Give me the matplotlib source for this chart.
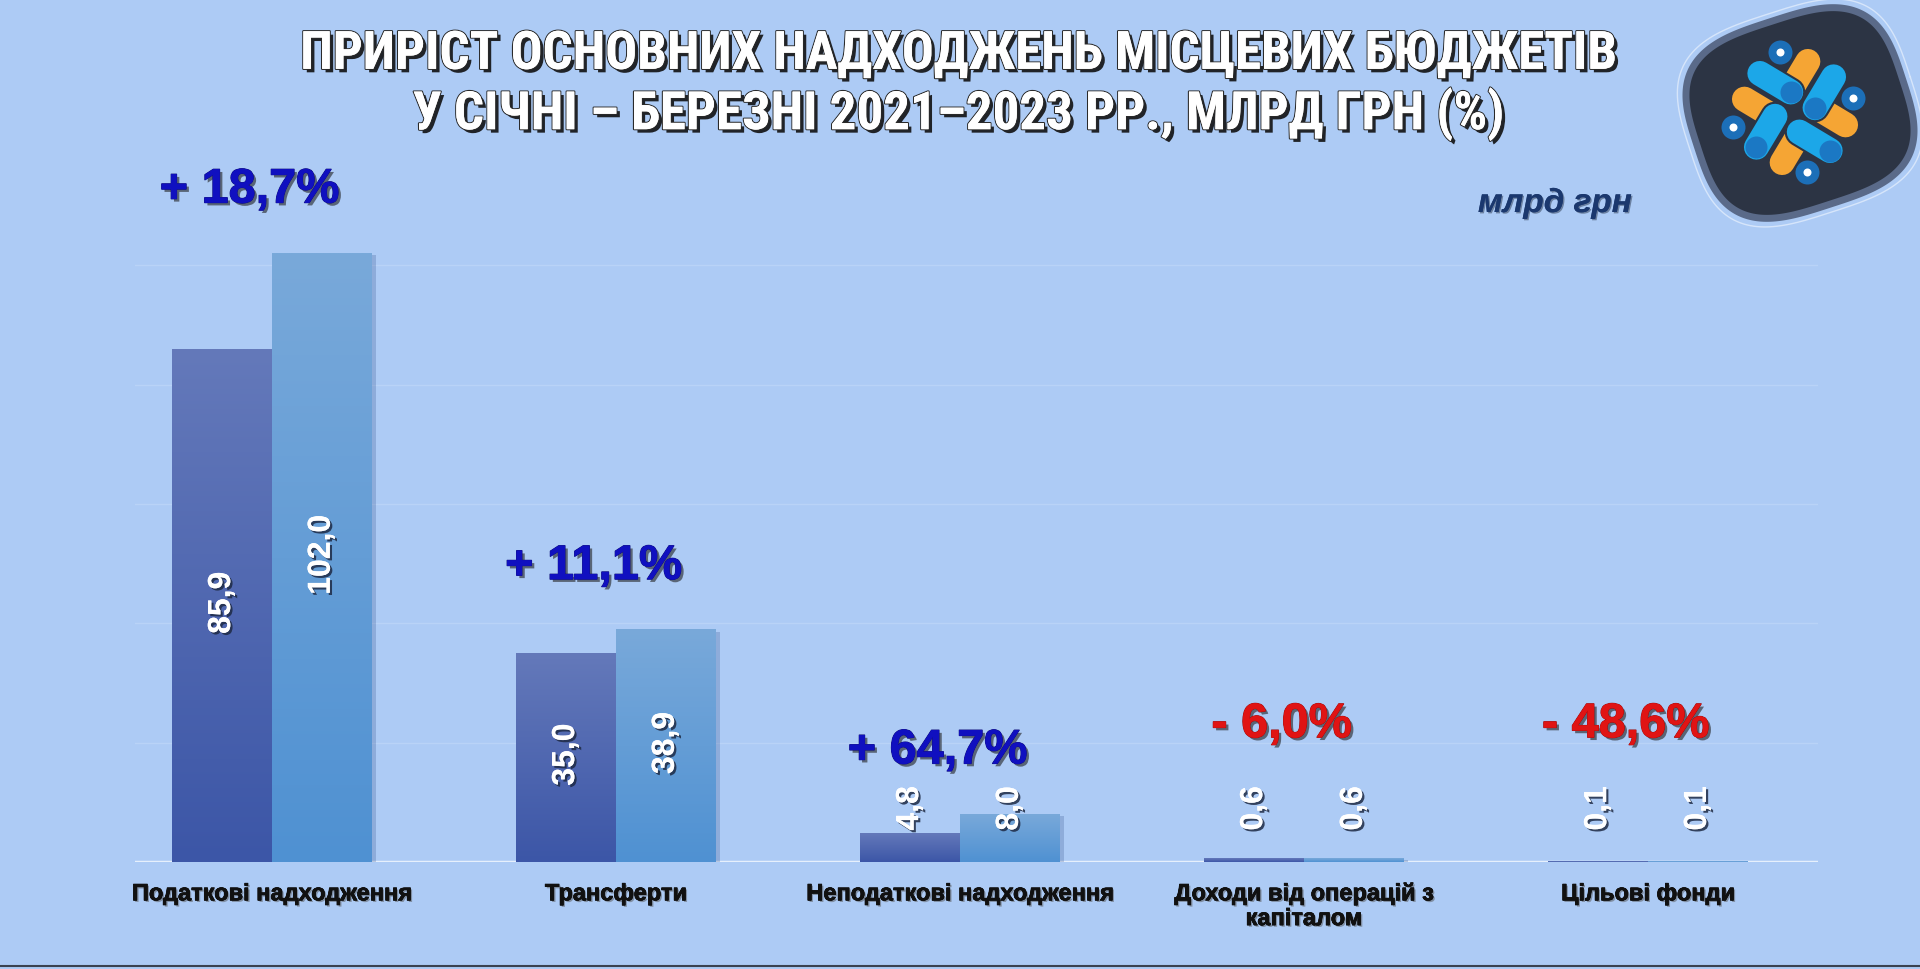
import numpy as np
import matplotlib
matplotlib.use('Agg')
import matplotlib.pyplot as plt
import matplotlib.patheffects as pe
from matplotlib import font_manager

# chart data (млрд грн)
categories = ['Податкові надходження', 'Трансферти', 'Неподаткові надходження',
              'Доходи від операцій з\nкапіталом', 'Цільові фонди']
values_2021 = [85.9, 35.0, 4.8, 0.6, 0.1]
values_2023 = [102.0, 38.9, 8.0, 0.6, 0.1]
growth_labels = ['+ 18,7%', '+ 11,1%', '+ 64,7%', '- 6,0%', '- 48,6%']
growth_positive = [True, True, True, False, False]

title = 'ПРИРІСТ ОСНОВНИХ НАДХОДЖЕНЬ МІСЦЕВИХ БЮДЖЕТІВ\nУ СІЧНІ – БЕРЕЗНІ 2021–2023 РР., МЛРД ГРН (%)'

BG = '#adcbf5'
DARK_TOP, DARK_BOT = '#6479ba', '#3c56a7'
LIGHT_TOP, LIGHT_BOT = '#79a9da', '#4f91d2'

names = {f.name for f in font_manager.fontManager.ttflist}
title_font = 'DejaVu Sans'
for cand in ['Liberation Sans Narrow', 'Roboto Condensed', 'Open Sans Condensed',
             'IBM Plex Sans Condensed']:
    if cand in names:
        title_font = cand
        break
plt.rcParams['font.family'] = ['Liberation Sans', 'DejaVu Sans']

fig = plt.figure(figsize=(19.2, 9.69), dpi=100, facecolor=BG)
ax = fig.add_axes([135 / 1920, 107 / 969, 1683 / 1920, 716 / 969])
ax.set_facecolor(BG)
for s in ax.spines.values():
    s.set_visible(False)
ax.set_xticks([])
ax.set_yticks([])

# faint grid + baseline
for g in [20, 40, 60, 80, 100]:
    ax.axhline(g, color='#b9d3f7', lw=1, zorder=0)
ax.axhline(0, color='#e6f0fc', lw=2.5, zorder=1)

x = np.arange(len(categories))
w = 0.29


def gradient_bars(bars, top, bot):
    cmap = matplotlib.colors.LinearSegmentedColormap.from_list('g', [bot, top])
    grad = np.linspace(0, 1, 256).reshape(-1, 1)
    for b in bars:
        bx, bw, bh = b.get_x(), b.get_width(), b.get_height()
        # soft shadow on the right / bottom
        ax.add_patch(plt.Rectangle((bx + 0.012, -0.6), bw, bh + 0.3, color='#33508a',
                                   alpha=0.25, zorder=1.5, lw=0))
        ax.imshow(grad, extent=(bx, bx + bw, 0, bh), origin='lower', cmap=cmap,
                  aspect='auto', zorder=2)


b1 = ax.bar(x - w / 2, values_2021, w, color=DARK_BOT, zorder=2)
b2 = ax.bar(x + w / 2, values_2023, w, color=LIGHT_BOT, zorder=2)
gradient_bars(b1, DARK_TOP, DARK_BOT)
gradient_bars(b2, LIGHT_TOP, LIGHT_BOT)
ax.set_xlim(-0.398, 4.494)
ax.set_ylim(0, 120)

val_fx = [pe.withSimplePatchShadow(offset=(1.6, -1.6), shadow_rgbFace='#1e2a44', alpha=0.85),
          pe.Normal()]
for xs, vals in [(x - w / 2, values_2021), (x + w / 2, values_2023)]:
    for xi, v in zip(xs, vals):
        ax.text(xi, max(v / 2 + 0.5, 9), f'{v:.1f}'.replace('.', ','), rotation=90,
                ha='center', va='center', color='white', fontsize=23,
                fontweight='bold', path_effects=val_fx, zorder=5)

pct_fx = [pe.withSimplePatchShadow(offset=(2, -2), shadow_rgbFace='#222222', alpha=0.6),
          pe.withStroke(linewidth=0.8, foreground='#10107a'), pe.Normal()]
pct_fx_red = [pe.withSimplePatchShadow(offset=(2, -2), shadow_rgbFace='#222222', alpha=0.6),
              pe.withStroke(linewidth=0.8, foreground='#9a0c0c'), pe.Normal()]
for i, (lab, pos) in enumerate(zip(growth_labels, growth_positive)):
    top = max(values_2021[i], values_2023[i])
    y = top + 10.6 if top > 5 else 23
    ax.text(i - 0.065, y, lab, ha='center', va='center', fontsize=35, fontweight='bold',
            color='#1010c0' if pos else '#e01414',
            path_effects=pct_fx if pos else pct_fx_red, clip_on=False, zorder=5)

cat_fx = [pe.withSimplePatchShadow(offset=(1.2, -1.2), shadow_rgbFace='#555555', alpha=0.5),
          pe.withStroke(linewidth=0.5, foreground='#111111'), pe.Normal()]
for i, c in enumerate(categories):
    ax.text(i, -3.4, c, ha='center', va='top', fontsize=17, fontweight='bold',
            color='#111111', linespacing=1.1, path_effects=cat_fx, clip_on=False)

fig.text(1555 / 1920, 1 - 203 / 969, 'млрд грн', ha='center', va='center', fontsize=24,
         fontweight='bold', style='italic', color='#1b386e',
         path_effects=[pe.withSimplePatchShadow(offset=(1, -1), alpha=0.4), pe.Normal()])

title_fx = [pe.withSimplePatchShadow(offset=(2.5, -2.5), shadow_rgbFace='#111111', alpha=0.9),
            pe.withStroke(linewidth=1.6, foreground='#2a2a2a'), pe.Normal()]
t = fig.text(958 / 1920, 1 - 85 / 969, title, ha='center', va='center', fontsize=38,
             fontweight='bold', family=[title_font, 'DejaVu Sans'], color='white',
             linespacing=1.16, path_effects=title_fx)
# fit the title width to the reference (~1316 px for the longer line)
r = fig.canvas.get_renderer()
tw = t.get_window_extent(r).width
t.set_fontsize(38 * 1316 / tw)

# bottom frame line
fig.add_artist(plt.Line2D([0, 1], [3 / 969, 3 / 969], color='#3a4250', lw=1.5))

# logo (pixel coordinates)
lg = fig.add_axes([1660 / 1920, 1 - 240 / 969, 260 / 1920, 240 / 969])
lg.set_xlim(1660, 1920)
lg.set_ylim(240, 0)
lg.axis('off')


def blob(cx, cy, A, B, rot, n=3.2):
    tt = np.linspace(0, 2 * np.pi, 300)
    px = A * np.sign(np.cos(tt)) * np.abs(np.cos(tt)) ** (2 / n)
    py = B * np.sign(np.sin(tt)) * np.abs(np.sin(tt)) ** (2 / n)
    rr = np.deg2rad(rot)
    return cx + px * np.cos(rr) - py * np.sin(rr), cy + px * np.sin(rr) + py * np.cos(rr)


ox, oy = blob(1800, 113, 116, 104, -18)
lg.plot(ox, oy, color='#e8f1fd', lw=1, alpha=0.7)
bx_, by_ = blob(1800, 113, 108, 96, -18)
lg.fill(bx_, by_, color='#2c3444', ec='#5a6a89', lw=5)

c = np.array([1795, 112])
ua = np.array([0.857, 0.514])
ub = np.array([-0.514, 0.857])


def P(a, b):
    return c + a * ua + b * ub


pill_lw = 25 * 0.72
orange = [((-50, 15), (-14, 15)), ((-15, -50), (-15, -14)),
          ((14, -15), (50, -15)), ((15, 14), (15, 50))]
blue = [((-50, -15), (-14, -15)), ((15, -50), (15, -14)),
        ((14, 15), (50, 15)), ((-15, 14), (-15, 50))]
for (a0, b0), (a1, b1_) in orange:
    p0, p1 = P(a0, b0), P(a1, b1_)
    lg.plot([p0[0], p1[0]], [p0[1], p1[1]], color='#2c3444', lw=pill_lw + 3,
            solid_capstyle='round', zorder=3)
    lg.plot([p0[0], p1[0]], [p0[1], p1[1]], color='#f5a534', lw=pill_lw,
            solid_capstyle='round', zorder=3)
for (a0, b0), (a1, b1_) in blue:
    p0, p1 = P(a0, b0), P(a1, b1_)
    lg.plot([p0[0], p1[0]], [p0[1], p1[1]], color='#2c3444', lw=pill_lw + 3,
            solid_capstyle='round', zorder=4)
    lg.plot([p0[0], p1[0]], [p0[1], p1[1]], color='#1ca7e8', lw=pill_lw,
            solid_capstyle='round', zorder=4)
    lg.scatter([p1[0]], [p1[1]], s=(22 * 0.72) ** 2, color='#1b78c4', zorder=5, lw=0)
for a, b in [(-44, -44), (43, -42), (-45, 45), (41, 45)]:
    p = P(a, b)
    lg.scatter([p[0]], [p[1]], s=(24 * 0.72) ** 2, color='#1c6fb8', zorder=2, lw=0)
    lg.scatter([p[0]], [p[1]], s=(8 * 0.72) ** 2, color='white', zorder=4.5, lw=0)

fig.savefig('out.png', dpi=100, facecolor=BG)
